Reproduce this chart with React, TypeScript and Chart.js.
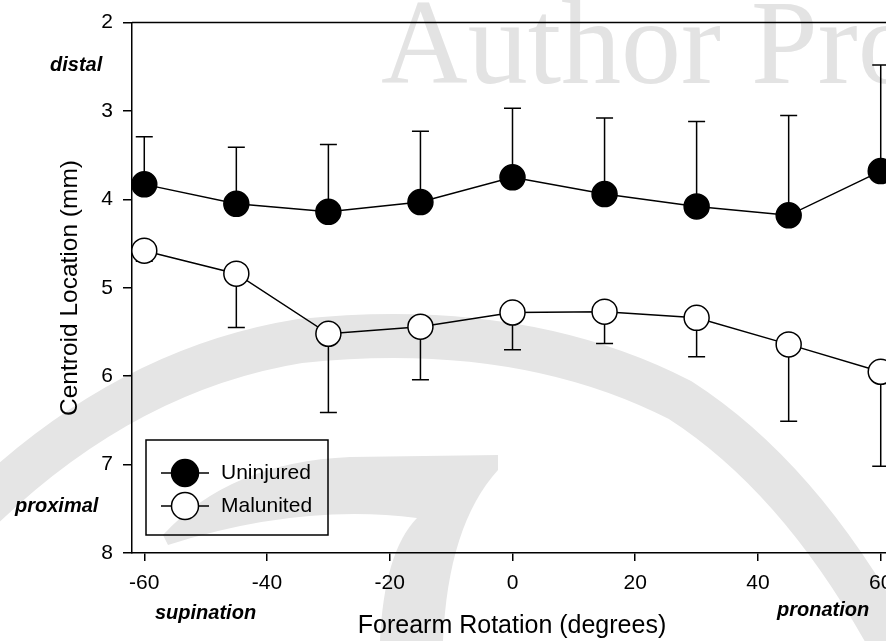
import { useEffect, useRef } from 'react';
import { Chart, registerables } from 'chart.js';

Chart.register(...registerables);

const FONT = '"Liberation Sans", Arial, Helvetica, sans-serif';
const SERIF = '"Liberation Serif", "Times New Roman", serif';

// Data
const rotations = [-60, -45, -30, -15, 0, 15, 30, 45, 60];
const uninjuredMean = [3.83, 4.05, 4.14, 4.03, 3.75, 3.94, 4.08, 4.18, 3.68];
const uninjuredSD = [0.54, 0.64, 0.76, 0.8, 0.78, 0.86, 0.96, 1.13, 1.2];
const malunitedMean = [4.58, 4.84, 5.52, 5.44, 5.28, 5.27, 5.34, 5.64, 5.95];
const malunitedSD = [0.12, 0.61, 0.89, 0.6, 0.42, 0.36, 0.44, 0.87, 1.07];
const xTickValues = [-60, -40, -20, 0, 20, 40, 60];
const yTickValues = [2, 3, 4, 5, 6, 7, 8];
const seriesNames = ['Uninjured', 'Malunited'];

const CANVAS_W = 910;
const CANVAS_H = 641;

const errorBarPlugin = {
  id: 'errorBars',
  beforeDatasetsDraw(chart: any) {
    const ctx = chart.ctx;
    const xs = chart.scales.x;
    const ys = chart.scales.y;
    const sets = [
      { mean: uninjuredMean, sd: uninjuredSD, dir: -1 },
      { mean: malunitedMean, sd: malunitedSD, dir: 1 },
    ];
    ctx.save();
    ctx.strokeStyle = '#000';
    ctx.lineWidth = 1.5;
    sets.forEach((s) => {
      rotations.forEach((r, i) => {
        const x = xs.getPixelForValue(r);
        const y0 = ys.getPixelForValue(s.mean[i]);
        const y1 = ys.getPixelForValue(s.mean[i] + s.dir * s.sd[i]);
        ctx.beginPath();
        ctx.moveTo(x, y0);
        ctx.lineTo(x, y1);
        ctx.moveTo(x - 8.5, y1);
        ctx.lineTo(x + 8.5, y1);
        ctx.stroke();
      });
    });
    ctx.restore();
  },
};

const watermarkPlugin = {
  id: 'watermark',
  beforeDraw(chart: any) {
    const ctx = chart.ctx;
    ctx.save();
    ctx.fillStyle = '#ffffff';
    ctx.fillRect(0, 0, chart.width, chart.height);
    const gray = '#e5e5e5';
    // big arc
    ctx.strokeStyle = gray;
    ctx.lineWidth = 44;
    ctx.lineCap = 'butt';
    ctx.beginPath();
    ctx.moveTo(-30, 520);
    ctx.quadraticCurveTo(120, 370, 300, 341);
    ctx.quadraticCurveTo(520, 318, 680, 400);
    ctx.quadraticCurveTo(820, 490, 920, 700);
    ctx.stroke();
    // "7" shape
    ctx.fillStyle = gray;
    ctx.beginPath();
    ctx.moveTo(163, 535);
    ctx.quadraticCurveTo(230, 462, 350, 457);
    ctx.lineTo(498, 455);
    ctx.lineTo(498, 470);
    ctx.quadraticCurveTo(448, 525, 443, 641);
    ctx.lineTo(380, 641);
    ctx.quadraticCurveTo(384, 552, 417, 518);
    ctx.quadraticCurveTo(300, 503, 168, 545);
    ctx.closePath();
    ctx.fill();
    // text
    ctx.fillStyle = '#e3e3e3';
    ctx.font = `120px ${SERIF}`;
    ctx.textAlign = 'left';
    ctx.textBaseline = 'alphabetic';
    ctx.fillText('Author Proof', 381, 83);
    ctx.restore();
  },
};

const annotationPlugin = {
  id: 'annotations',
  afterDraw(chart: any) {
    const ctx = chart.ctx;
    const area = chart.chartArea;
    ctx.save();
    // top frame line
    ctx.strokeStyle = '#000';
    ctx.lineWidth = 1.5;
    ctx.beginPath();
    ctx.moveTo(area.left, area.top);
    ctx.lineTo(area.right, area.top);
    ctx.stroke();

    ctx.fillStyle = '#000';
    // axis titles
    ctx.font = `25px ${FONT}`;
    ctx.textAlign = 'center';
    ctx.textBaseline = 'middle';
    ctx.fillText('Forearm Rotation (degrees)', 512, 626);
    ctx.save();
    ctx.translate(70, 288);
    ctx.rotate(-Math.PI / 2);
    ctx.font = `24.5px ${FONT}`;
    ctx.fillText('Centroid Location (mm)', 0, 0);
    ctx.restore();

    // direction labels
    ctx.font = `italic bold 20px ${FONT}`;
    ctx.textAlign = 'left';
    ctx.fillText('distal', 50, 65);
    ctx.fillText('proximal', 15, 506);
    ctx.fillText('supination', 155, 613);
    ctx.fillText('pronation', 777, 610);

    // legend
    ctx.lineWidth = 1.5;
    ctx.strokeRect(146, 440, 182, 95);
    const rows = [473, 506];
    rows.forEach((y, i) => {
      ctx.beginPath();
      ctx.moveTo(161, y);
      ctx.lineTo(209, y);
      ctx.stroke();
      ctx.beginPath();
      ctx.arc(185, y, 13.5, 0, Math.PI * 2);
      ctx.fillStyle = i === 0 ? '#000' : '#fff';
      ctx.fill();
      ctx.stroke();
      ctx.fillStyle = '#000';
      ctx.font = `21px ${FONT}`;
      ctx.textAlign = 'left';
      ctx.textBaseline = 'middle';
      ctx.fillText(seriesNames[i], 221, y);
    });
    ctx.restore();
  },
};

export default function App() {
  const canvasRef = useRef<HTMLCanvasElement | null>(null);

  useEffect(() => {
    if (!canvasRef.current) return;
    const chart = new Chart(canvasRef.current, {
      type: 'scatter',
      data: {
        datasets: [
          {
            label: seriesNames[0],
            data: rotations.map((r, i) => ({ x: r, y: uninjuredMean[i] })),
            showLine: true,
            borderColor: '#000',
            borderWidth: 1.5,
            pointRadius: 12.5,
            pointHoverRadius: 12.5,
            pointBackgroundColor: '#000',
            pointBorderColor: '#000',
            pointBorderWidth: 1.5,
          },
          {
            label: seriesNames[1],
            data: rotations.map((r, i) => ({ x: r, y: malunitedMean[i] })),
            showLine: true,
            borderColor: '#000',
            borderWidth: 1.5,
            pointRadius: 12.5,
            pointHoverRadius: 12.5,
            pointBackgroundColor: '#fff',
            pointBorderColor: '#000',
            pointBorderWidth: 1.5,
          },
        ],
      },
      options: {
        animation: false,
        responsive: false,
        maintainAspectRatio: false,
        devicePixelRatio: 1,
        layout: { padding: { left: 0, top: 21, right: 17, bottom: 0 } },
        plugins: {
          legend: { display: false },
          tooltip: { enabled: false },
          title: { display: false },
        },
        scales: {
          x: {
            type: 'linear',
            min: -62,
            max: 62,
            afterBuildTicks: (scale: any) => {
              scale.ticks = xTickValues.map((v) => ({ value: v }));
            },
            afterFit: (scale: any) => {
              scale.height = 88;
            },
            grid: {
              drawOnChartArea: false,
              drawTicks: true,
              tickLength: 8,
              color: '#000',
              lineWidth: 1.5,
            },
            border: { display: true, color: '#000', width: 1.5 },
            ticks: {
              color: '#000',
              font: { family: FONT, size: 21 },
              padding: 10,
              maxRotation: 0,
              autoSkip: false,
            },
          },
          y: {
            type: 'linear',
            min: 2,
            max: 8,
            reverse: true,
            afterBuildTicks: (scale: any) => {
              scale.ticks = yTickValues.map((v) => ({ value: v }));
            },
            afterFit: (scale: any) => {
              scale.width = 132;
            },
            grid: {
              drawOnChartArea: false,
              drawTicks: true,
              tickLength: 9,
              color: '#000',
              lineWidth: 1.5,
            },
            border: { display: true, color: '#000', width: 1.5 },
            ticks: {
              color: '#000',
              font: { family: FONT, size: 21 },
              padding: 10,
              autoSkip: false,
            },
          },
        },
      },
      plugins: [watermarkPlugin, errorBarPlugin, annotationPlugin],
    } as any);
    return () => chart.destroy();
  }, []);

  return (
    <div
      style={{
        position: 'fixed',
        left: 0,
        top: 0,
        width: CANVAS_W,
        height: CANVAS_H,
        background: '#fff',
      }}
    >
      <canvas
        ref={canvasRef}
        width={CANVAS_W}
        height={CANVAS_H}
        style={{ display: 'block', width: CANVAS_W, height: CANVAS_H }}
      />
    </div>
  );
}
